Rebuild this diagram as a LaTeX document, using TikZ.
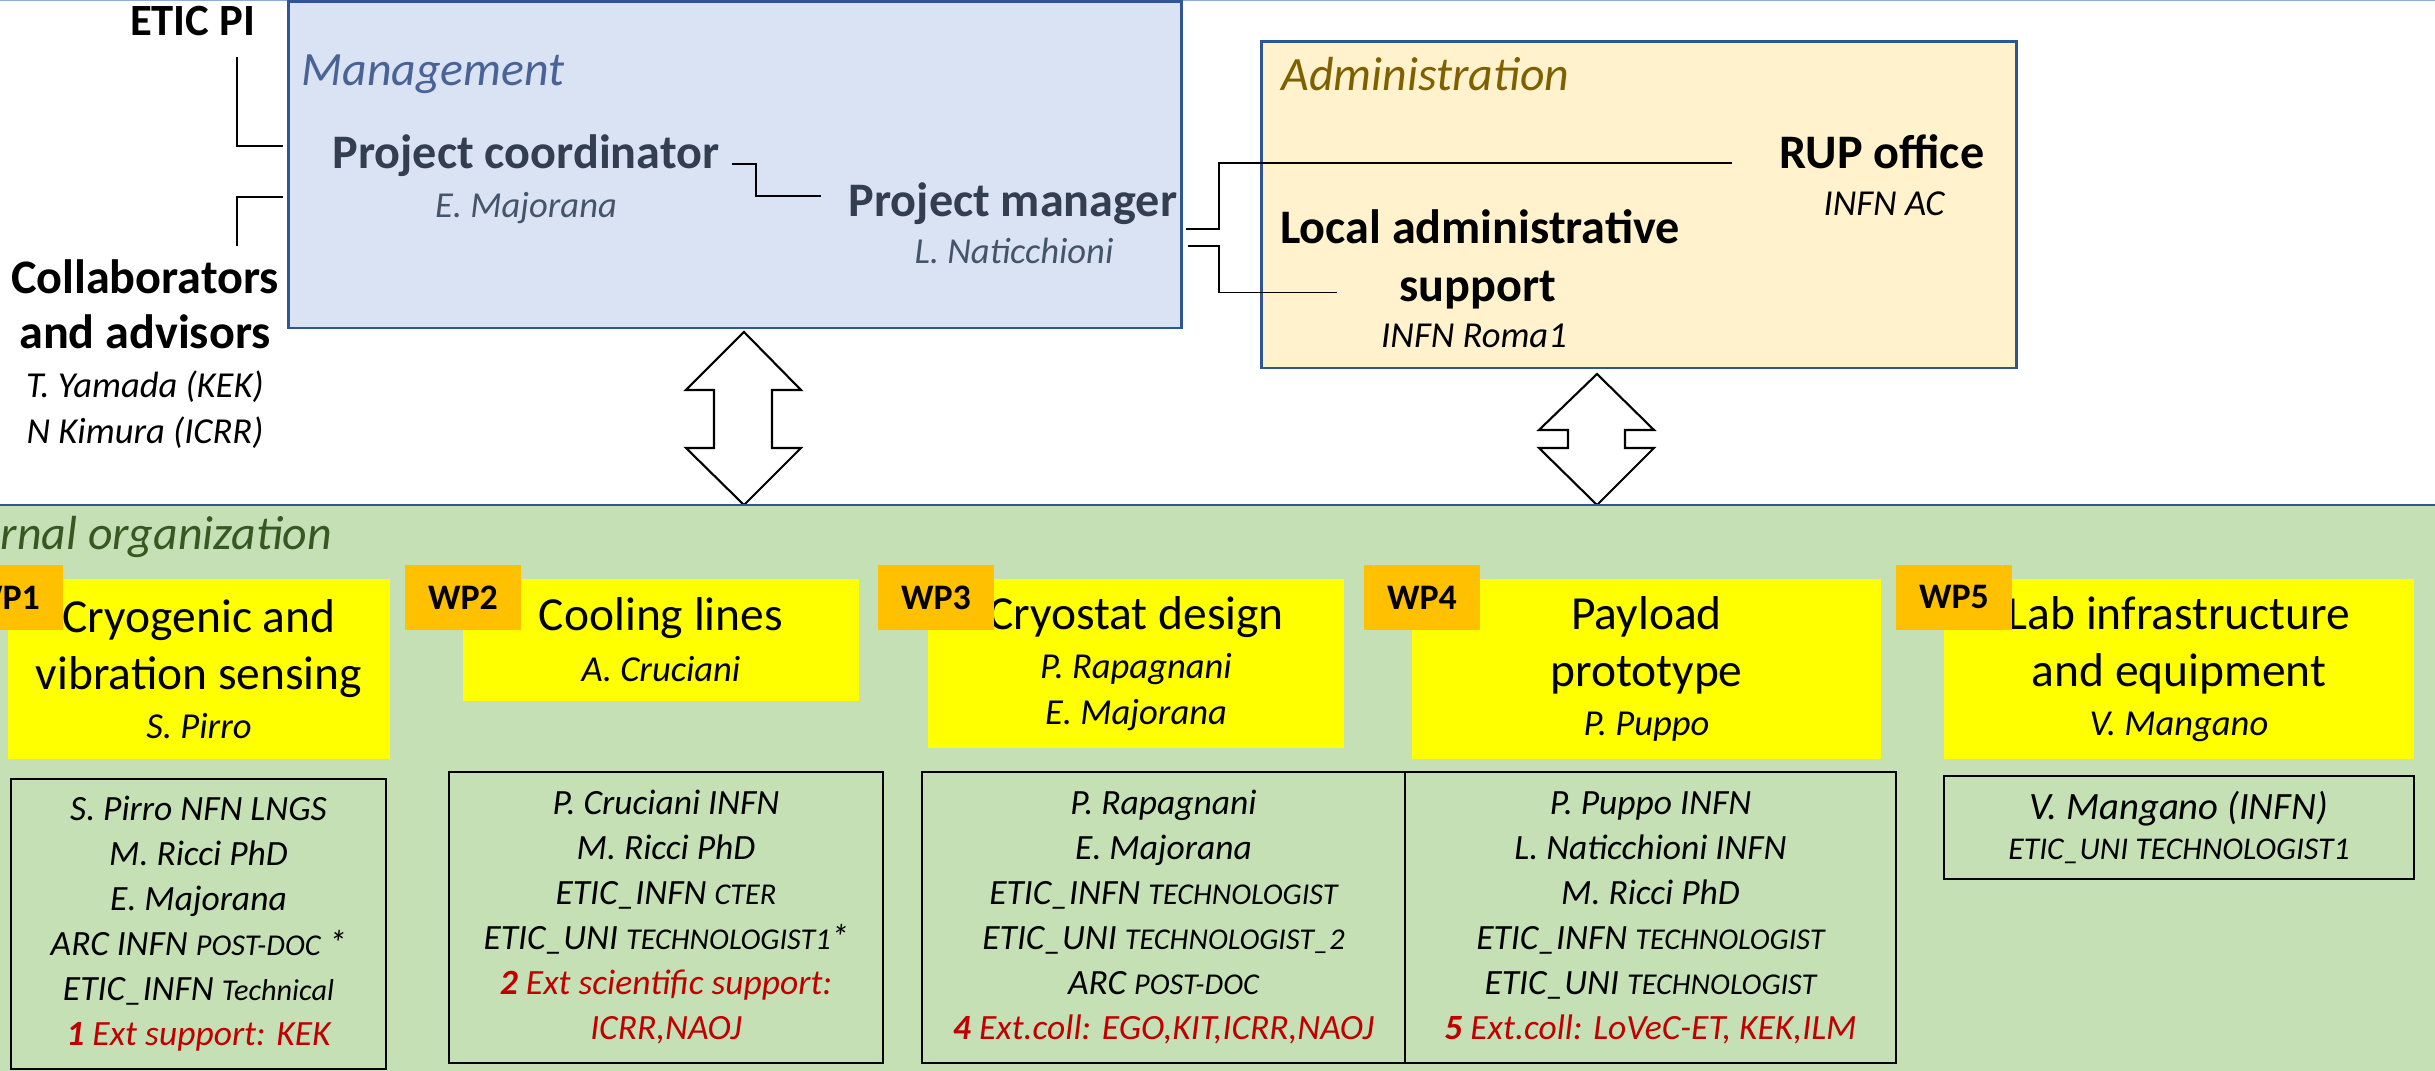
\documentclass[tikz,border=0pt]{standalone}
\usepackage{fontspec}
\setmainfont{Carlito}
\usetikzlibrary{positioning, calc}

\definecolor{mgmtfill}{HTML}{DAE3F3}
\definecolor{adminfill}{HTML}{FFF2CC}
\definecolor{boxline}{HTML}{2F5597}
\definecolor{topline}{HTML}{8FAADC}
\definecolor{mgmttext}{HTML}{4A6396}
\definecolor{slate}{HTML}{333F50}
\definecolor{slatelight}{HTML}{44546A}
\definecolor{admintext}{HTML}{7F6000}
\definecolor{orgfill}{HTML}{C5E0B4}
\definecolor{orgtext}{HTML}{385723}
\definecolor{wpyellow}{HTML}{FFFF00}
\definecolor{wporange}{HTML}{FFC000}
\definecolor{extred}{HTML}{C00000}

\newcommand{\rolefont}{\bfseries\fontsize{13.7}{15.6}\selectfont}
\newcommand{\whofont}{\itshape\fontsize{10.4}{12}\selectfont}
\newcommand{\areafont}{\itshape\fontsize{13.6}{15}\selectfont}
\newcommand{\wpfont}{\fontsize{13.5}{16.2}\selectfont}
\newcommand{\tagfont}{\bfseries\fontsize{10.2}{11}\selectfont}
\newcommand{\listfont}{\itshape\fontsize{10.1}{12.8}\selectfont}
\newcommand{\smc}[1]{{\fontsize{8.6}{9}\selectfont #1}}
\newcommand{\extline}[2]{\textcolor{extred}{\textbf{#1} #2}}

\begin{document}
\begin{tikzpicture}[x=0.01cm, y=-0.01cm,
  area/.style={draw=boxline, line width=0.8pt, inner sep=0pt},
  lbl/.style={inner sep=0pt},
  role/.style={lbl, font=\rolefont},
  who/.style={lbl, font=\whofont},
  link/.style={line width=0.45pt},
  bigarrow/.style={draw, fill=white, line width=0.6pt, line join=miter},
  wpbox/.style={fill=wpyellow, align=center, inner sep=0pt, font=\wpfont},
  wptag/.style={fill=wporange, minimum width=1.16cm, minimum height=0.65cm, inner sep=0pt, font=\tagfont},
  listbox/.style={draw, line width=0.6pt, align=center, inner sep=0pt, font=\listfont}]
\useasboundingbox (0,0) rectangle (2435,1071);
\draw[topline, line width=0.4pt] (0,0.8) -- (2435,0.8);

\node[area, fill=mgmtfill, minimum width=8.92cm, minimum height=3.26cm] (mgmt) at (735,165) {};
\node[area, fill=adminfill, minimum width=7.54cm, minimum height=3.26cm] (admin) at (1639,205) {};

\node[lbl, font=\areafont, text=mgmttext, anchor=base west] (mgmtlbl) at (301,86) {Management};
\node[lbl, font=\areafont, text=admintext, anchor=base west] (adminlbl) at (1281,91) {Administration};

\node[role, text=slate, anchor=base] (pc) at (526,169) {Project coordinator};
\node[who, text=slatelight, anchor=base] (pcname) at (526,218) {E. Majorana};
\node[role, text=slate, anchor=base] (pm) at (1013,217) {Project manager};
\node[who, text=slatelight, anchor=base] (pmname) at (1014,264) {L. Naticchioni};
\node[role, anchor=base] (rup) at (1882,169) {RUP office};
\node[who, anchor=base] (rupname) at (1884,216) {INFN AC};
\node[role, anchor=base] (local) at (1480,244) {Local administrative};
\node[role, anchor=base] (support) at (1478,302) {support};
\node[who, anchor=base] (localname) at (1474,348) {INFN Roma1};

\node[lbl, font=\bfseries\fontsize{12.7}{14}\selectfont, anchor=base east] (etic) at (256,36) {ETIC PI};
\node[role, anchor=base] (collab) at (145,294) {Collaborators};
\node[role, anchor=base] (advisors) at (145,349) {and advisors};
\node[who, anchor=base] (yamada) at (145,398) {T. Yamada (KEK)};
\node[who, anchor=base] (kimura) at (145,444) {N Kimura (ICRR)};

\coordinate (piend) at (237,57);
\coordinate (colend) at (237,246);
\draw[link] (piend) |- ($(mgmt.west)+(-4,-19)$);
\draw[link] (colend) |- ($(mgmt.west)+(-4,32)$);
\draw[link] ($(pc.east)+(12,8)$) -- ++(24,0) |- ($(pm.west)+(-27,-8)$);
\draw[link] ($(pm.east)+(8,25)$) -- ++(33,0) |- ($(rup.west)+(-47,11)$);
\draw[link] ($(pm.east)+(10,42)$) -- ++(31,0) |- ($(support.west)+(-62,2)$);

\draw[bigarrow] (744,332) -- (801,390) -- (772,390) -- (772,448) -- (801,448) -- (744,505)
  -- (686,448) -- (714,448) -- (714,390) -- (686,390) -- cycle;
\draw[bigarrow] (1597,374) -- (1654,430) -- (1625,430) -- (1625,448) -- (1654,448) -- (1597,505)
  -- (1539,448) -- (1568,448) -- (1568,430) -- (1539,430) -- cycle;

\node[fill=orgfill, inner sep=0pt, minimum width=24.35cm, minimum height=5.65cm] (org) at (1217.5,788.5) {};
\draw[boxline, line width=0.6pt] (org.north west) -- (org.north east);
\node[lbl, font=\areafont, text=orgtext, anchor=base west] (orglbl) at (0,550) {rnal organization};

\node[wpbox, minimum width=3.82cm, minimum height=1.80cm] (wp1) at (199,669)
  {Cryogenic and\\vibration sensing\\[-2.3pt]{\whofont S. Pirro}};
\node[wpbox, minimum width=3.96cm, minimum height=1.22cm] (wp2) at (661,640)
  {Cooling lines\\[-1.7pt]{\whofont A. Cruciani}};
\node[wpbox, minimum width=4.16cm, minimum height=1.69cm] (wp3) at (1136,663.5)
  {Cryostat design\\[-2.3pt]{\whofont P. Rapagnani}\\[-3.2pt]{\whofont E. Majorana}};
\node[wpbox, minimum width=4.69cm, minimum height=1.80cm] (wp4) at (1646.5,669)
  {Payload\\prototype\\[-2.3pt]{\whofont P. Puppo}};
\node[wpbox, minimum width=4.70cm, minimum height=1.80cm] (wp5) at (2179,669)
  {Lab infrastructure\\and equipment\\[-2.3pt]{\whofont V. Mangano}};

\foreach \n/\x in {1/5, 2/463, 3/936, 4/1422, 5/1954}
  \node[wptag] (tag\n) at (\x,597.5) {WP\n};

\node[listbox, minimum width=3.75cm, minimum height=2.90cm] (list1) at (198.5,924)
  {S. Pirro NFN LNGS\\M. Ricci PhD\\E. Majorana\\ARC INFN \smc{POST-DOC} *\\
   ETIC\_INFN \smc{Technical}\\\extline{1}{Ext support: KEK}};
\node[listbox, minimum width=4.34cm, minimum height=2.91cm] (list2) at (666,917.5)
  {P. Cruciani INFN\\M. Ricci PhD\\ETIC\_INFN \smc{CTER}\\ETIC\_UNI \smc{TECHNOLOGIST1}*\\
   \extline{2}{Ext scientific support:}\\\textcolor{extred}{ICRR,NAOJ}};
\node[listbox, minimum width=4.83cm, minimum height=2.91cm] (list3) at (1163.5,917.5)
  {P. Rapagnani\\E. Majorana\\ETIC\_INFN \smc{TECHNOLOGIST}\\ETIC\_UNI \smc{TECHNOLOGIST\_2}\\
   ARC \smc{POST-DOC}\\\extline{4}{Ext.coll: EGO,KIT,ICRR,NAOJ}};
\node[listbox, minimum width=4.91cm, minimum height=2.91cm] (list4) at (1650.5,917.5)
  {P. Puppo INFN\\L. Naticchioni INFN\\M. Ricci PhD\\ETIC\_INFN \smc{TECHNOLOGIST}\\
   ETIC\_UNI \smc{TECHNOLOGIST}\\\extline{5}{Ext.coll: LoVeC-ET, KEK,ILM}};
\node[listbox, font=\itshape\fontsize{11}{11.4}\selectfont, minimum width=4.70cm, minimum height=1.03cm] (list5) at (2179,827.5)
  {V. Mangano (INFN)\\{\fontsize{9}{10}\selectfont ETIC\_UNI TECHNOLOGIST1}};
\end{tikzpicture}
\end{document}
